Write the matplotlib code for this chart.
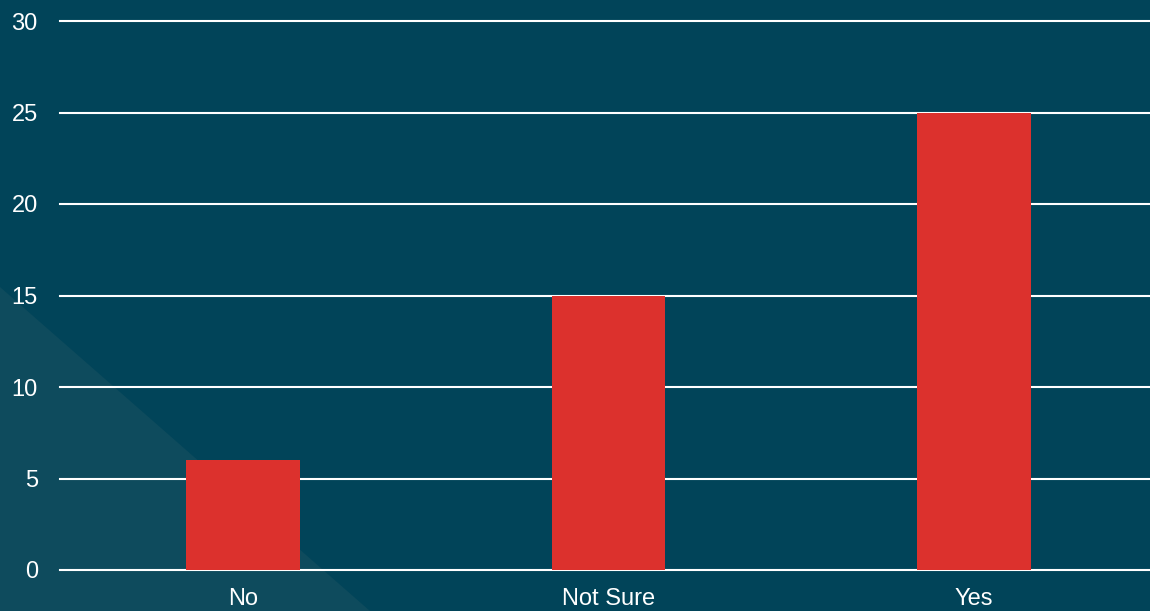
import matplotlib.pyplot as plt
from matplotlib.patches import Polygon

categories = ['No', 'Not Sure', 'Yes']
counts = [6, 15, 25]
yticks = [0, 5, 10, 15, 20, 25, 30]

bg = '#014459'
tri = '#0e4b5d'
bar_color = '#dc312d'

plt.rcParams['font.family'] = ['Liberation Sans', 'DejaVu Sans']

fig = plt.figure(figsize=(11.5, 6.11), dpi=100, facecolor=bg)
W, H = 1150, 611

ax = fig.add_axes([60 / W, 41 / H, (1157 - 60) / W, 549 / H])
ax.set_facecolor('none')

# lighter triangle in the lower left corner, behind everything
ax.add_patch(Polygon([(0, 0), (0, (H - 287) / H), (370 / W, 0)],
                     closed=True, transform=fig.transFigure, clip_on=False,
                     facecolor=tri, edgecolor='none', zorder=0))

x = range(len(categories))
ax.bar(x, counts, width=0.31, color=bar_color, zorder=3)

ax.set_xlim(-0.5, 2.5)
ax.set_ylim(0, 30)
ax.set_yticks(yticks)
ax.set_xticks(list(x))
ax.set_xticklabels(categories)
ax.yaxis.grid(True, color='white', linewidth=1.5)
for g in ax.yaxis.get_gridlines():
    g.set_clip_on(False)
    g.set_zorder(1)
ax.set_axisbelow(True)
for s in ax.spines.values():
    s.set_visible(False)
ax.tick_params(axis='both', length=0, colors='white', labelsize=17)
ax.tick_params(axis='y', pad=16)
ax.tick_params(axis='x', pad=13)

fig.savefig('out.png', dpi=100, facecolor=bg)
